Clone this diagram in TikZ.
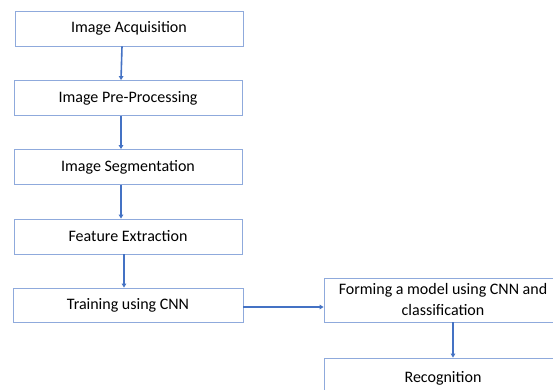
\documentclass[tikz,border=0pt]{standalone}
\usepackage{fontspec}
\setmainfont{Carlito}
\usetikzlibrary{arrows.meta}
\definecolor{boxline}{HTML}{8FAADC}
\definecolor{flow}{HTML}{4472C4}
\begin{document}
\begin{tikzpicture}[x=1pt,y=1pt,font=\fontsize{16}{21}\selectfont,
    stage/.style={draw=boxline,line width=0.8pt,minimum width=228pt,minimum height=35pt,inner sep=0pt,align=center},
    wide/.style={stage,minimum width=238pt},
    flowline/.style={flow,line width=1.6pt,-{Triangle[length=4pt,width=4.5pt]}}]
    \clip (0,0) rectangle (553,-390);
    \useasboundingbox (0,0) rectangle (553,-390);
    % left column
    \node[stage] (acq) at (129,-28.5) {Image Acquisition};
    \node[stage] (pre) at (128,-98) {Image Pre-Processing};
    \node[stage] (seg) at (128,-167) {Image Segmentation};
    \node[stage] (fea) at (128,-236.5) {Feature Extraction};
    \node[stage,minimum width=230pt,minimum height=34pt] (trn) at (128,-305) {Training using CNN};
    % right column
    \node[wide,minimum height=44pt] (mod) at (443,-300) {Forming a model using CNN and\\classification};
    \node[wide,minimum height=40pt] (rec) at (443,-378) {Recognition};
    % arrows
    \foreach \a/\b/\dx in {acq/pre/-7, pre/seg/-7, seg/fea/-7, fea/trn/-4, mod/rec/10} {
      \draw[flowline] ([xshift=\dx pt]\a.south) -- ([xshift=\dx pt]\b.north);
    }
    \draw[flowline] ([yshift=-2pt]trn.east) -- ([yshift=-2pt]trn.east -| mod.west);
\end{tikzpicture}
\end{document}
